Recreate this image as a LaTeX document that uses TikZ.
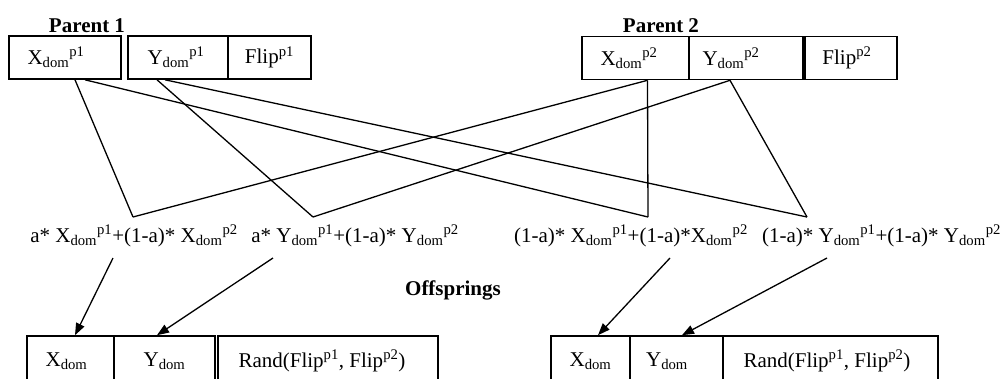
\documentclass[tikz,border=0pt]{standalone}
\usepackage{fontspec}
\setmainfont{Liberation Serif}
\usetikzlibrary{arrows.meta}
\newcommand{\dm}[2]{#1\textsubscript{dom}\textsuperscript{#2}}
\begin{document}
\begin{tikzpicture}[x=1pt,y=-1pt,
  box/.style={draw, line width=1.6pt, inner sep=0pt, font=\fontsize{21}{24}\selectfont},
  pbox/.style={box, minimum height=43pt},
  obox/.style={box, minimum height=50pt},
  lbl/.style={font=\bfseries\fontsize{21}{24}\selectfont, inner sep=0pt, anchor=base},
  expr/.style={font=\fontsize{21}{24}\selectfont, inner sep=0pt, anchor=base},
  link/.style={line width=1.3pt},
  arr/.style={line width=1.3pt, -{Triangle[length=12pt,width=9pt]}}]
\useasboundingbox (0,0) rectangle (1002,378);
\clip (0,0) rectangle (1002,378);
\fill[white] (0,0) rectangle (1002,378);
% parent 1
\node[lbl] (p1) at (87,32) {Parent 1};
\node[pbox, minimum width=112pt] (x1) at (65,57.5) {\dm{X}{p1}\kern18pt};
\node[pbox, minimum width=100pt] (y1) at (178,57.5) {\dm{Y}{p1}\kern4pt};
\node[pbox, minimum width=83pt] (f1) at (269.5,57.5) {Flip\textsuperscript{p1}};
% parent 2
\node[lbl] (p2) at (661,32) {Parent 2};
\node[pbox, minimum width=107pt] (x2) at (635.5,58) {\dm{X}{p2}\kern13pt};
\node[pbox, minimum width=114pt] (y2) at (746,58) {\dm{Y}{p2}\kern30pt};
\node[pbox, minimum width=92pt] (f2) at (851,58) {Flip\textsuperscript{p2}\kern8pt};
% expressions
\node[expr] (e1) at (134,242) {a* \dm{X}{p1}+(1-a)* \dm{X}{p2}};
\node[expr] (e2) at (355,242) {a* \dm{Y}{p1}+(1-a)* \dm{Y}{p2}};
\node[expr] (e3) at (631,242) {(1-a)* \dm{X}{p1}+(1-a)*\dm{X}{p2}};
\node[expr] (e4) at (881.5,242) {(1-a)* \dm{Y}{p1}+(1-a)* \dm{Y}{p2}};
\coordinate (e1t) at (133,217);
\coordinate (e2t) at (313,217);
\coordinate (e3t) at (648,217);
\coordinate (e4t) at (807,217);
\coordinate (e1b) at (113,258);
\coordinate (e2b) at (273,258);
\coordinate (e3b) at (670,258);
\coordinate (e4b) at (827,258);
\node[lbl] (off) at (453,295) {Offsprings};
% offspring boxes
\node[obox, minimum width=87pt] (o1x) at (70.5,361) {X\textsubscript{dom}\kern8pt};
\node[obox, minimum width=101pt] (o1y) at (164.5,361) {Y\textsubscript{dom}};
\node[obox, minimum width=220pt] (o1r) at (328,361) {Rand(Flip\textsuperscript{p1}, Flip\textsuperscript{p2})\kern12pt};
\node[obox, minimum width=79pt] (o2x) at (590.5,361) {X\textsubscript{dom}};
\node[obox, minimum width=93pt] (o2y) at (676.5,361) {Y\textsubscript{dom}\kern19pt};
\node[obox, minimum width=215pt] (o2r) at (830.5,361) {Rand(Flip\textsuperscript{p1}, Flip\textsuperscript{p2})\kern7pt};
% links
\draw[link] ([xshift=10pt]x1.south) -- (e1t);
\draw[link] ([xshift=20pt]x1.south) -- (e3t);
\draw[link] ([xshift=-21pt]y1.south) -- (e2t);
\draw[link] ([xshift=-13pt]y1.south) -- (e4t);
\draw[link] ([xshift=12pt]x2.south) -- (e1t);
\draw[link] ([xshift=12pt]x2.south) -- (e3t);
\draw[link] ([xshift=-16pt]y2.south) -- (e2t);
\draw[link] ([xshift=-16pt]y2.south) -- (e4t);
% arrows
\draw[arr] (e1b) -- ([xshift=4.5pt]o1x.north);
\draw[arr] (e2b) -- ([xshift=-7.5pt]o1y.north);
\draw[arr] (e3b) -- ([xshift=7.5pt]o2x.north);
\draw[arr] (e4b) -- ([xshift=5.5pt]o2y.north);
\end{tikzpicture}
\end{document}
